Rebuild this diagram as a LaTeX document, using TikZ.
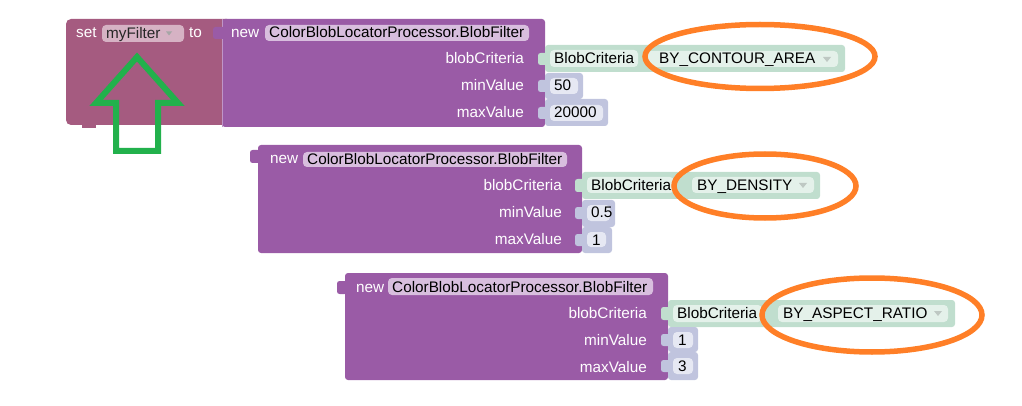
\documentclass[tikz,border=0pt]{standalone}
\usepackage{fontspec}
\setmainfont{Liberation Sans}
\definecolor{setc}{RGB}{165,91,128}
\definecolor{setpill}{RGB}{214,178,196}
\definecolor{newc}{RGB}{154,91,166}
\definecolor{newpill}{RGB}{216,190,222}
\definecolor{grc}{RGB}{192,222,206}
\definecolor{grpill}{RGB}{228,241,234}
\definecolor{numc}{RGB}{192,196,222}
\definecolor{numpill}{RGB}{230,232,243}
\definecolor{orng}{RGB}{255,127,39}
\definecolor{arrg}{RGB}{34,177,76}
\definecolor{drop}{RGB}{190,200,195}
\begin{document}
\begin{tikzpicture}[x=1pt,y=-1pt,
  every node/.style={font=\fontsize{15.3}{17}\selectfont, inner sep=0pt},
  wtxt/.style={text=white, anchor=base west},
  btxt/.style={text=black, anchor=base west},
  lbl/.style={text=white, anchor=base east},
  pillbox/.style={rounded corners=4},
  blockbox/.style={rounded corners=3},
  ring/.style={draw=orng, line width=5.5pt},
  tabbox/.style={rounded corners=2.5}]
\useasboundingbox (0,0) rectangle (1022,406);

% ---------- block 1 ----------
\fill[setc, rounded corners=5] (66,19) rectangle (232,125);
\fill[setc] (82,124) rectangle (96,128);
\fill[newc, blockbox] (222,19) rectangle (545,127);
\draw[newpill!60!newc, line width=0.8pt] (222.5,127) -- (222.5,19);
\node[wtxt] (set) at (76,38) {set};
\fill[setpill, pillbox] (102,25) rectangle (184,42);
\node[btxt, text=black!85] (var) at (106,38.5) {myFilter};
\fill[black!35] (166,31.5) -- (172,31.5) -- (169,35.5) -- cycle;
\node[wtxt] (to) at (189,38) {to};
\fill[newc, tabbox] (213,27) rectangle (225,39);
\node[wtxt] (new1) at (231,38) {new};
\fill[newpill, pillbox] (265,25) rectangle (529,41);
\node[btxt] (cls1) at (269,38) {ColorBlobLocatorProcessor.BlobFilter};
\node[lbl] (bc1) at (524,64) {blobCriteria};
\node[lbl] (mn1) at (524,91) {minValue};
\node[lbl] (mx1) at (524,118) {maxValue};
% value blocks
\fill[grc, blockbox] (545,45) rectangle (845,72);
\fill[grc, tabbox] (538,53) rectangle (548,65);
\fill[grpill, pillbox] (550,50) rectangle (638,67);
\node[btxt] (crit1) at (554,64) {BlobCriteria};
\fill[grpill, pillbox] (647,51) rectangle (838,67);
\node[btxt] (enum1) at (659,64) {BY\_CONTOUR\_AREA};
\fill[drop] (823,57) -- (831,57) -- (827,62) -- cycle;
\fill[numc, blockbox] (545,73) rectangle (583,99);
\fill[numc, tabbox] (538,80) rectangle (548,92);
\fill[numpill, pillbox] (550,78) rectangle (578,94);
\node[btxt] (v1a) at (554,91) {50};
\fill[numc, blockbox] (545,99) rectangle (608,126);
\fill[numc, tabbox] (538,107) rectangle (548,119);
\fill[numpill, pillbox] (550,105) rectangle (603,121);
\node[btxt] (v1b) at (554,118) {20000};
\draw[ring] (760,56.5) ellipse [x radius=115, y radius=32];

% green arrow
\draw[arrg, line width=6pt, line join=miter]
  (116,151) -- (116,103) -- (96,103) -- (137,57) -- (178,103) -- (158,103) -- (158,151) -- cycle;

% ---------- block 2 ----------
\fill[newc, blockbox] (258,145) rectangle (582,253);
\fill[newc, tabbox] (250,150) rectangle (260,163);
\node[wtxt] (new2) at (270,164) {new};
\fill[newpill, pillbox] (303,152) rectangle (567,167);
\node[btxt] (cls2) at (307,164.5) {ColorBlobLocatorProcessor.BlobFilter};
\node[lbl] (bc2) at (562,190) {blobCriteria};
\node[lbl] (mn2) at (562,217) {minValue};
\node[lbl] (mx2) at (562,244) {maxValue};
\fill[grc, blockbox] (582,172) rectangle (820,199);
\fill[grc, tabbox] (575,179) rectangle (585,192);
\fill[grpill, pillbox] (587,177) rectangle (674,193);
\node[btxt] (crit2) at (591,190) {BlobCriteria};
\fill[grpill, pillbox] (692,177) rectangle (814,193);
\node[btxt] (enum2) at (697,190) {BY\_DENSITY};
\fill[drop] (799,183) -- (807,183) -- (803,188) -- cycle;
\fill[numc, blockbox] (582,200) rectangle (615,227);
\fill[numc, tabbox] (575,207) rectangle (585,219);
\fill[numpill, pillbox] (587,205) rectangle (610,221);
\node[btxt] (v2a) at (591,218) {0.5};
\fill[numc, blockbox] (582,227) rectangle (612,253);
\fill[numc, tabbox] (575,234) rectangle (585,246);
\fill[numpill, pillbox] (587,232) rectangle (606,247);
\node[btxt] (v2b) at (592,245) {1};
\draw[ring] (765,186) ellipse [x radius=91, y radius=32];

% ---------- block 3 ----------
\fill[newc, blockbox] (345,273) rectangle (668,380);
\fill[newc, tabbox] (337,281) rectangle (347,294);
\node[wtxt] (new3) at (356,292) {new};
\fill[newpill, pillbox] (388,278) rectangle (653,295);
\node[btxt] (cls3) at (392,292) {ColorBlobLocatorProcessor.BlobFilter};
\node[lbl] (bc3) at (647,318) {blobCriteria};
\node[lbl] (mn3) at (647,345) {minValue};
\node[lbl] (mx3) at (647,372) {maxValue};
\fill[grc, blockbox] (668,300) rectangle (955,327);
\fill[grc, tabbox] (661,307) rectangle (671,320);
\fill[grpill, pillbox] (673,305) rectangle (762,322);
\node[btxt] (crit3) at (677,318) {BlobCriteria};
\fill[grpill, pillbox] (778,305) rectangle (948,322);
\node[btxt] (enum3) at (783,318) {BY\_ASPECT\_RATIO};
\fill[drop] (934,311) -- (942,311) -- (938,316) -- cycle;
\fill[numc, blockbox] (668,327) rectangle (698,352);
\fill[numc, tabbox] (661,334) rectangle (671,346);
\fill[numpill, pillbox] (673,332) rectangle (693,348);
\node[btxt] (v3a) at (678,345) {1};
\fill[numc, blockbox] (668,352) rectangle (698,380);
\fill[numc, tabbox] (661,360) rectangle (671,372);
\fill[numpill, pillbox] (673,358) rectangle (693,374);
\node[btxt] (v3b) at (678,371) {3};
\draw[ring] (872,315) ellipse [x radius=110, y radius=37];
\end{tikzpicture}
\end{document}
